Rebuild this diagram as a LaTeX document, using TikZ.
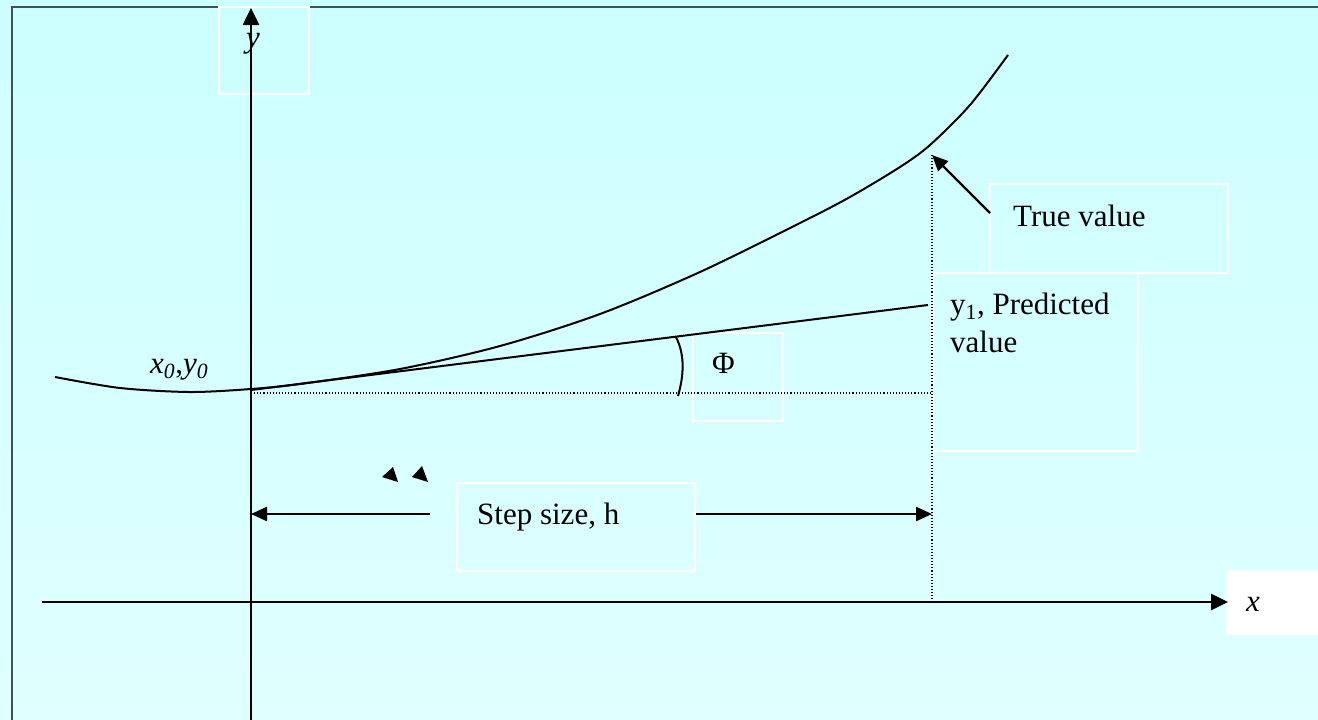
\documentclass[tikz,border=0pt]{standalone}
\usepackage{fontspec}
\setmainfont{Liberation Serif}
\usetikzlibrary{arrows.meta}
\definecolor{bgtop}{HTML}{CCFFFF}
\definecolor{bgbot}{HTML}{E0FFFF}
\definecolor{frame}{HTML}{425252}
\begin{document}
\begin{tikzpicture}[x=1pt,y=-1pt,
  lbl/.style={font=\fontsize{31}{38}\selectfont, inner sep=0pt, anchor=base west},
  wbox/.style={draw=white, line width=2pt, minimum width=#1, inner sep=0pt},
  axis/.style={line width=2.6pt, -{Triangle[length=17pt,width=16pt]}},
  harrow/.style={line width=2.4pt, -{Triangle[length=16pt,width=14pt]}},
  guide/.style={dotted, line width=1.1pt},
  curve/.style={line width=2pt}]
\useasboundingbox (0,0) rectangle (1318,720);
\shade[top color=bgtop, bottom color=bgbot] (0,0) rectangle (1318,720);
\draw[frame, line width=2.5pt] (12,720) -- (12,7) -- (1318,7);

% white boxes
\node[wbox=90pt, minimum height=87pt] (ybox) at (264,50.5) {};
\node[wbox=90pt, minimum height=88pt] (phibox) at (738,377) {};
\node[wbox=238pt, minimum height=89pt] (tvbox) at (1109,228.5) {};
\node[wbox=205pt, minimum height=178pt] (pvbox) at (1035.5,362) {};
\node[wbox=238pt, minimum height=88pt] (sbox) at (576,527) {};
\node[fill=white, minimum width=92pt, minimum height=65pt, inner sep=0pt] (xbox) at (1272,602.5) {};

% guides
\coordinate (o) at (251,393);
\coordinate (p) at (932,393);
\coordinate (t) at (932,155);
\coordinate (xa) at (932,602);
\draw[guide] (o) -- (p);
\draw[guide] (t) -- (xa);

% axes
\coordinate (ybot) at (251,720);
\coordinate (ytop) at (251,8);
\coordinate (xl) at (42,602);
\coordinate (xr) at (1228,602);
\draw[axis] (ybot) -- (ytop);
\draw[axis] (xl) -- (xr);

% curve and tangent
\draw[curve] plot[smooth, tension=0.5] coordinates {(55,377) (120,388) (190,392) (251,389) (300,384) (400,369) (500,346) (600,314) (700,272) (800,223) (850,197) (900,167) (930,145) (970,105) (1008,55)};
\coordinate (x0) at (251,390);
\coordinate (y1) at (928,305);
\draw[curve] (x0) -- (y1);
\draw[line width=2pt] (676,337) .. controls (685,355) and (684,375) .. (678,396);

% labels
\node[lbl] (ylab) at (246,47) {\textit{y}};
\node[lbl] (xlab) at (1246,611) {\textit{x}};
\node[lbl] (x0lab) at (150,373) {\textit{x}\textsubscript{\textit{0}},\textit{y}\textsubscript{\textit{0}}};
\node[lbl] (philab) at (712,373) {Φ};
\node[lbl] (tvlab) at (1013,226) {True value};
\node[lbl] (pvlab) at (950,314) {y\textsubscript{1}, Predicted};
\node[lbl] (pvlab2) at (950,352) {value};
\node[lbl] (slab) at (477,524) {Step size, h};

% arrows
\coordinate (tvstart) at (990,213);
\draw[harrow] (tvstart) -- (t);
\coordinate (sl) at (430,514);
\coordinate (sr) at (sbox.east |- sl);
\draw[harrow] (sl) -- (o |- sl);
\draw[harrow] (sr) -- (p |- sr);

% stray arrowheads
\fill (382,477) -- (393,467) -- (398,482) -- cycle;
\fill (412,477) -- (422,466) -- (428,482) -- cycle;
\end{tikzpicture}
\end{document}
